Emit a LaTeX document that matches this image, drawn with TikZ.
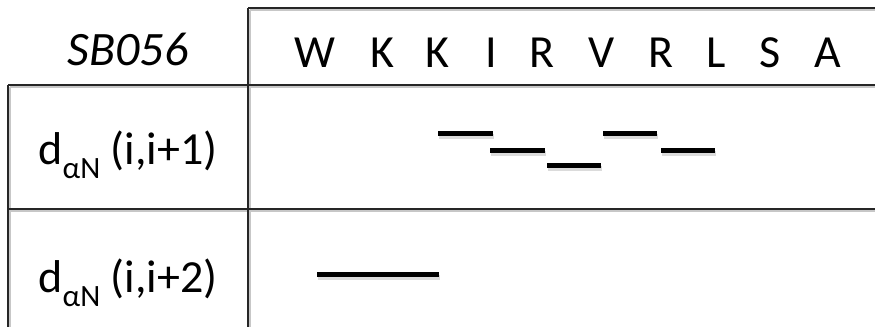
\documentclass[tikz,border=0pt]{standalone}
\usepackage{fontspec}
\setmainfont{Carlito}
\newcommand\myaN{\raisebox{-14pt}{\fontsize{31}{31}\selectfont αN}}
\begin{document}
\begin{tikzpicture}[x=1pt,y=-1pt,
  grid/.style={line width=2pt, draw=black!85},
  gridshadow/.style={line width=2pt, draw=black!22},
  bar/.style={line width=5pt, draw=black},
  barshadow/.style={line width=5pt, draw=black!14},
  res/.style={anchor=base, inner sep=0pt, font=\fontsize{46}{50}\selectfont},
  lab/.style={anchor=base, inner sep=0pt, font=\fontsize{46}{50}\selectfont}]
\useasboundingbox (0,0) rectangle (875,327);
% grid shadows
\draw[gridshadow] (250,10) -- (875,10);
\draw[gridshadow] (250,10) -- (250,327);
\draw[gridshadow] (10,87) -- (875,87);
\draw[gridshadow] (10,87) -- (10,327);
\draw[gridshadow] (10,211) -- (875,211);
% grid
\draw[grid] (248,8) -- (875,8);
\draw[grid] (248,8) -- (248,327);
\draw[grid] (8,85) -- (875,85);
\draw[grid] (8,85) -- (8,327);
\draw[grid] (8,209) -- (875,209);
% header
\node[res, font=\fontsize{48}{50}\selectfont\itshape] (name) at (128,65.5) {SB056};
\node[res] (r1) at (315,67) {W};
\node[res] (r2) at (382,67) {K};
\node[res] (r3) at (437,67) {K};
\node[res] (r4) at (491,67) {I};
\node[res] (r5) at (542,67) {R};
\node[res] (r6) at (602,67) {V};
\node[res] (r7) at (661,67) {R};
\node[res] (r8) at (716,67) {L};
\node[res] (r9) at (770,67) {S};
\node[res] (r10) at (828,67) {A};
% row labels
\node[lab] (lab1) at (128,164) {d\myaN{} (i,i+1)};
\node[lab] (lab2) at (128,292) {d\myaN{} (i,i+2)};
% bar shadows
\foreach \a/\b/\y in {438/493/133, 490/545/150, 547/601/165, 603/657/133, 661/715/150, 317/439/274}
  \draw[barshadow] (\a+1,\y+3) -- (\b+1,\y+3);
% bars
\foreach \a/\b/\y in {438/493/133, 490/545/150, 547/601/165, 603/657/133, 661/715/150, 317/439/274}
  \draw[bar] (\a,\y) -- (\b,\y);
\end{tikzpicture}
\end{document}
